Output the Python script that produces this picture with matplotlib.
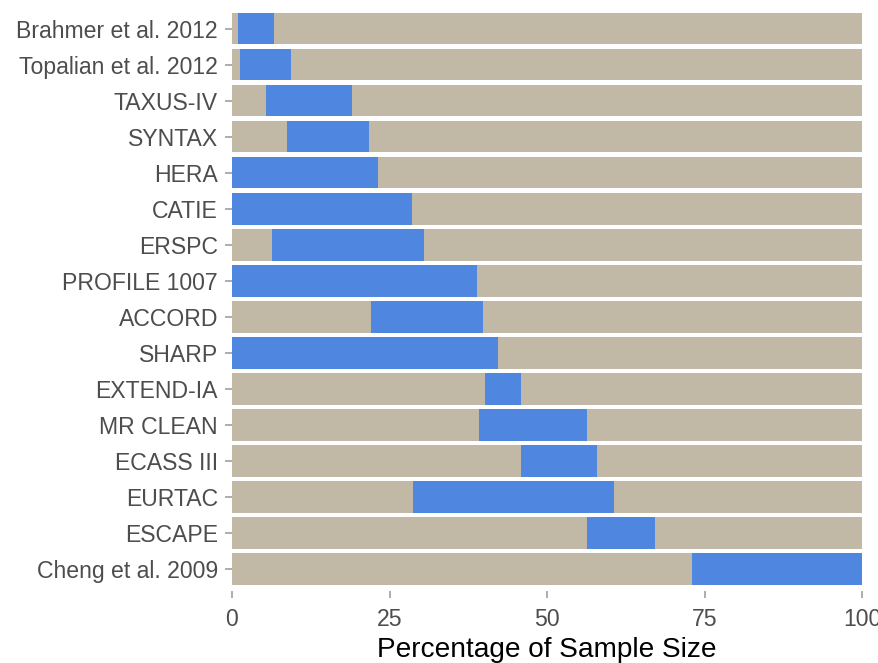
import matplotlib.pyplot as plt

# trials listed top to bottom
trials = ["Brahmer et al. 2012", "Topalian et al. 2012", "TAXUS-IV", "SYNTAX",
          "HERA", "CATIE", "ERSPC", "PROFILE 1007", "ACCORD", "SHARP",
          "EXTEND-IA", "MR CLEAN", "ECASS III", "EURTAC", "ESCAPE",
          "Cheng et al. 2009"]
seg_start = [0.9, 1.2, 5.4, 8.7, 0.0, 0.0, 6.3, 0.0, 22.0, 0.0,
             40.1, 39.2, 45.8, 28.7, 56.3, 73.0]
seg_end = [6.6, 9.4, 19.0, 21.7, 23.2, 28.6, 30.4, 38.9, 39.8, 42.2,
           45.8, 56.3, 57.9, 60.6, 67.2, 100.0]
x_ticks = [0, 25, 50, 75, 100]

tan = "#C1B9A5"
blue = "#4F87E0"

plt.rcParams["font.family"] = ["Liberation Sans", "DejaVu Sans"]

fig = plt.figure(figsize=(8.79, 6.63), dpi=100)
ax = fig.add_axes([232 / 879, 1 - 590.6 / 663, 630 / 879, 583.7 / 663])

n = len(trials)
ypos = list(range(n))[::-1]
ax.barh(ypos, [100] * n, height=0.88, color=tan, linewidth=0)
widths = [e - s for s, e in zip(seg_start, seg_end)]
ax.barh(ypos, widths, left=seg_start, height=0.88, color=blue, linewidth=0)

ax.set_xlim(0, 100)
ax.set_ylim(-0.6, n - 0.4)
ax.set_yticks(ypos)
ax.set_yticklabels(trials)
ax.set_xticks(x_ticks)
ax.set_xticklabels([str(t) for t in x_ticks])

for s in ax.spines.values():
    s.set_visible(False)
ax.tick_params(axis="both", colors="#A0A0A0", length=5, width=1.2,
               labelsize=16.6, labelcolor="#4D4D4D")
ax.tick_params(axis="y", pad=5)
ax.tick_params(axis="x", pad=7.5)
ax.set_xlabel("Percentage of Sample Size", fontsize=20.2, color="black", labelpad=4)

fig.savefig("out.png", dpi=100)
